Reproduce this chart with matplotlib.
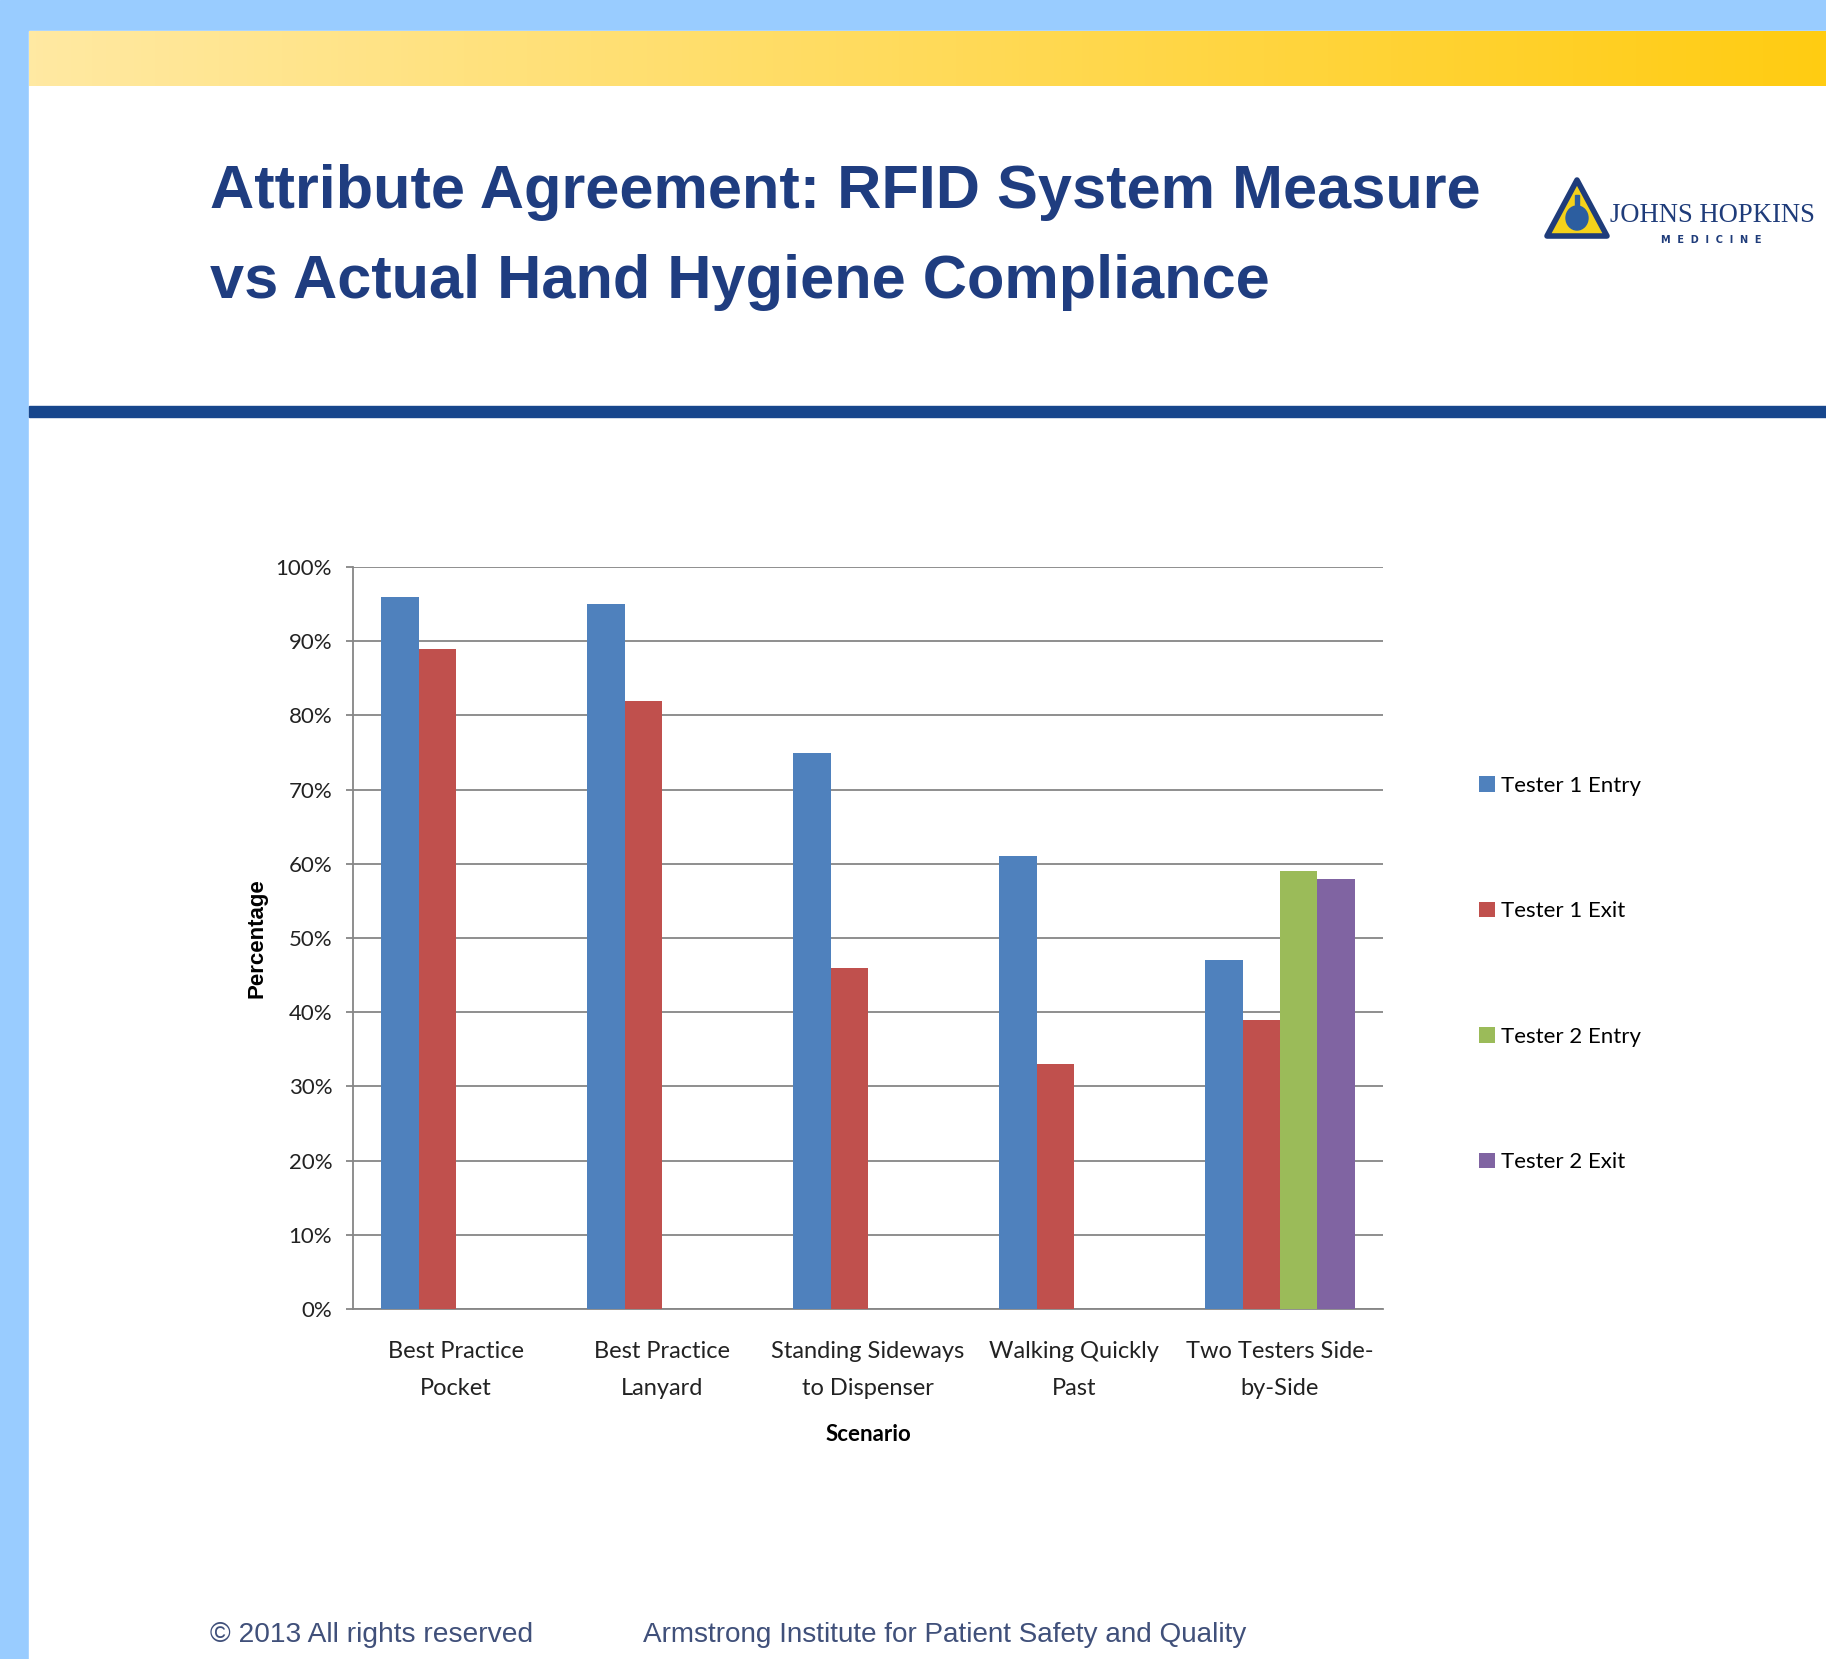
import numpy as np
import matplotlib
matplotlib.use('Agg')
import matplotlib.pyplot as plt
from matplotlib.patches import Rectangle, Polygon, Ellipse
from matplotlib.ticker import PercentFormatter

# data
categories = ['Best Practice\nPocket', 'Best Practice\nLanyard', 'Standing Sideways\nto Dispenser',
              'Walking Quickly\nPast', 'Two Testers Side-\nby-Side']
series_names = ['Tester 1 Entry', 'Tester 1 Exit', 'Tester 2 Entry', 'Tester 2 Exit']
tester1_entry = [96, 95, 75, 61, 47]
tester1_exit = [89, 82, 46, 33, 39]
tester2_entry = [np.nan, np.nan, np.nan, np.nan, 59]
tester2_exit = [np.nan, np.nan, np.nan, np.nan, 58]
colors = ['#4F81BD', '#C0504D', '#9BBB59', '#8064A2']
yticks = [0, 10, 20, 30, 40, 50, 60, 70, 80, 90, 100]

chart_font = 'Lato'
slide_font = 'Liberation Sans'

W, H = 1826, 1659
fig = plt.figure(figsize=(W / 100, H / 100), dpi=100)
renderer = fig.canvas.get_renderer()


def fit_width(txt, target_px):
    # shrink / grow the font so the text spans the width seen in the slide
    w = txt.get_window_extent(renderer=renderer).width
    txt.set_fontsize(txt.get_fontsize() * target_px / w)


# slide background, in pixel coordinates
bg = fig.add_axes([0, 0, 1, 1])
bg.axis('off')
bg.add_patch(Rectangle((0, 0), W, H, color='#99CCFF', zorder=0))
bg.add_patch(Rectangle((29, 31), W - 29, H - 31, color='white', zorder=1))

# yellow gradient bar
grad = np.linspace(0, 1, 256)
c0 = np.array([255, 233, 162]) / 255
c1 = np.array([255, 204, 18]) / 255
img = (c0[None, :] * (1 - grad[:, None]) + c1[None, :] * grad[:, None])[None, :, :]
bg.imshow(img, extent=(29, W, 86, 31), aspect='auto', zorder=2)
bg.set_xlim(0, W)
bg.set_ylim(H, 0)

# navy rule
bg.add_patch(Rectangle((29, 406), W - 29, 11, color='#17468C', zorder=2))

# title
title_color = '#1F3D80'
t1 = bg.text(210, 208, 'Attribute Agreement: RFID System Measure', fontsize=50, fontweight='bold',
             family=slide_font, color=title_color, va='baseline', ha='left', zorder=3)
t2 = bg.text(210, 298, 'vs Actual Hand Hygiene Compliance', fontsize=50, fontweight='bold',
             family=slide_font, color=title_color, va='baseline', ha='left', zorder=3)
fit_width(t1, 1272)
t2.set_fontsize(t1.get_fontsize())

# logo
bg.add_patch(Polygon([(1577, 180), (1607, 236), (1547, 236)], closed=True,
                     facecolor='#F5D21A', edgecolor='#1F3C7A', lw=4, joinstyle='round', zorder=3))
bg.add_patch(Ellipse((1577, 218), 22, 24, color='#2C5EA0', zorder=4))
bg.add_patch(Rectangle((1575, 195), 4, 12, color='#2C5EA0', zorder=4))
jh = bg.text(1610, 222, 'JOHNS HOPKINS', fontsize=20, family='Liberation Serif', color='#1F3C7A',
             va='baseline', ha='left', zorder=3)
fit_width(jh, 205)
bg.text(1711, 240, 'M  E  D  I  C  I  N  E', fontsize=7, fontweight='bold', family='DejaVu Sans',
        color='#1F3C7A', va='center', ha='center', zorder=3)

# footer
foot_color = '#40507A'
f1 = bg.text(210, 1635, '\u00a9 2013 All rights reserved', fontsize=20, family=slide_font,
             color=foot_color, va='center', ha='left', zorder=3)
f2 = bg.text(643, 1635, 'Armstrong Institute for Patient Safety and Quality', fontsize=20,
             family=slide_font, color=foot_color, va='center', ha='left', zorder=3)
fit_width(f1, 322)
fit_width(f2, 604)

# chart
ax = fig.add_axes([353 / W, 1 - 1309 / H, (1383 - 353) / W, (1309 - 567) / H])
ax.patch.set_alpha(0)
x = np.arange(len(categories))
width = 1 / 5.5
all_series = [tester1_entry, tester1_exit, tester2_entry, tester2_exit]
handles = []
for i, vals in enumerate(all_series):
    b = ax.bar(x + (i - 1.5) * width, vals, width, color=colors[i], label=series_names[i], zorder=3)
    handles.append(b)

ax.set_xlim(-0.5, len(categories) - 0.5)
ax.set_ylim(0, 100)
ax.set_yticks(yticks)
ax.yaxis.set_major_formatter(PercentFormatter(decimals=0))
ax.set_axisbelow(True)
ax.yaxis.grid(True, color='#868686', lw=1.3)
for s in ['top', 'right']:
    ax.spines[s].set_visible(False)
for s in ['left', 'bottom']:
    ax.spines[s].set_color('#868686')
    ax.spines[s].set_linewidth(1.3)
ax.tick_params(axis='y', length=5, width=1.3, color='#868686', labelsize=16, pad=10)
ax.tick_params(axis='x', length=0, labelsize=17, pad=23)
ax.set_xticks(x)
ax.set_xticklabels(categories, linespacing=1.95)
for lab in ax.get_xticklabels() + ax.get_yticklabels():
    lab.set_family(chart_font)
    lab.set_color('#222222')

ax.set_xlabel('Scenario', fontsize=16, fontweight='bold', family=chart_font, labelpad=18)
ax.set_ylabel('Percentage', fontsize=16, fontweight='bold', family=slide_font, labelpad=6)

leg = fig.legend(handles=handles, loc='center left', bbox_to_anchor=(1459 / W, 1 - 974 / H),
                 frameon=False, prop={'family': chart_font, 'size': 16},
                 handlelength=0.7, handleheight=0.7, handletextpad=0.3, labelspacing=4.75)

fig.savefig('out.png', dpi=100)
